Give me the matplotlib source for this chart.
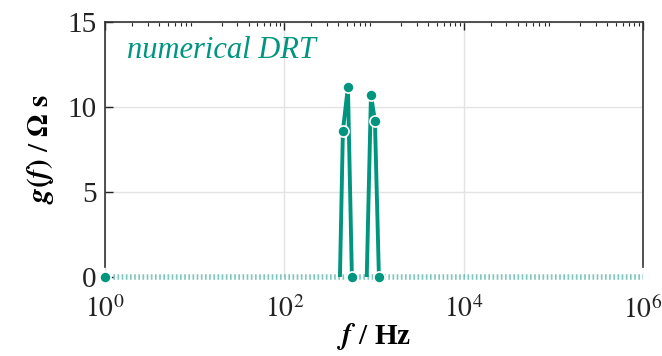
import matplotlib
matplotlib.use("Agg")
import matplotlib.pyplot as plt
import numpy as np
from matplotlib.ticker import LogLocator, NullFormatter

plt.rcParams['font.family'] = ['Liberation Serif', 'DejaVu Serif']
plt.rcParams['mathtext.fontset'] = 'stix'

# Data
peak1_freq = [417, 450, 512, 567]
peak1_g = [0, 8.6, 11.2, 0]
peak2_freq = [830, 925, 1024, 1135]
peak2_g = [0, 10.7, 9.2, 0]
marker_freq = [1, 450, 512, 567, 925, 1024, 1135]
marker_g = [0, 8.6, 11.2, 0, 10.7, 9.2, 0]
zero_freq = [1, 1e6]
zero_g = [0, 0]
xticks = [1, 1e2, 1e4, 1e6]
xticklabels = [r'$10^{0}$', r'$10^{2}$', r'$10^{4}$', r'$10^{6}$']
yticks = [0, 5, 10, 15]

color = '#00957f'

fig = plt.figure(figsize=(6.62, 3.56), dpi=100)
ax = fig.add_axes([0.1586, 0.2219, 0.8127, 0.7161])

ax.plot(zero_freq, zero_g, color=color, lw=4, ls=(0, (0.3, 0.45)), alpha=0.5,
        zorder=2, clip_on=False)
ax.plot(peak1_freq, peak1_g, color=color, lw=2.8, zorder=3, solid_capstyle='butt')
ax.plot(peak2_freq, peak2_g, color=color, lw=2.8, zorder=3, solid_capstyle='butt')
ax.plot(marker_freq, marker_g, ls='none', marker='o', ms=8, color=color,
        mec='white', mew=1.2, zorder=4, clip_on=False)

ax.set_xscale('log')
ax.set_xlim(1, 1e6)
ax.set_ylim(0, 15)
ax.set_xticks(xticks)
ax.set_xticklabels(xticklabels)
ax.xaxis.set_minor_locator(LogLocator(base=10, subs=np.arange(2, 10), numticks=20))
ax.xaxis.set_minor_formatter(NullFormatter())
ax.set_yticks(yticks)
ax.set_yticklabels([str(v) for v in yticks])

ax.grid(True, which='major', color='#e3e3e3', lw=1)
ax.set_axisbelow(True)
ax.tick_params(axis='both', which='both', direction='in', top=True, right=False,
               labelsize=21, colors='#222222')
ax.tick_params(axis='x', which='both', bottom=False, labelsize=20)
ax.tick_params(axis='both', which='major', length=6, width=1)
ax.tick_params(axis='x', which='minor', length=3, width=0.8)
ax.tick_params(axis='x', pad=14)
ax.tick_params(axis='y', pad=6)
ax.spines['bottom'].set_visible(False)
for s in ax.spines.values():
    s.set_linewidth(1.2)
    s.set_color('#333333')
ax.spines['left'].set_bounds(0.6, 15)
ax.spines['right'].set_bounds(0.6, 15)

ax.set_ylabel(r'$\boldsymbol{g(f)}$ / $\mathbf{\Omega\ s}$', fontsize=21, fontweight='bold', labelpad=8)
ax.set_xlabel(r'$\boldsymbol{f}$ / Hz', fontsize=21, fontweight='bold', labelpad=-2)

ax.text(0.04, 0.89, 'numerical DRT', transform=ax.transAxes, color=color,
        fontsize=22, style='italic', va='center', ha='left')

fig.savefig('out.png', dpi=100)
